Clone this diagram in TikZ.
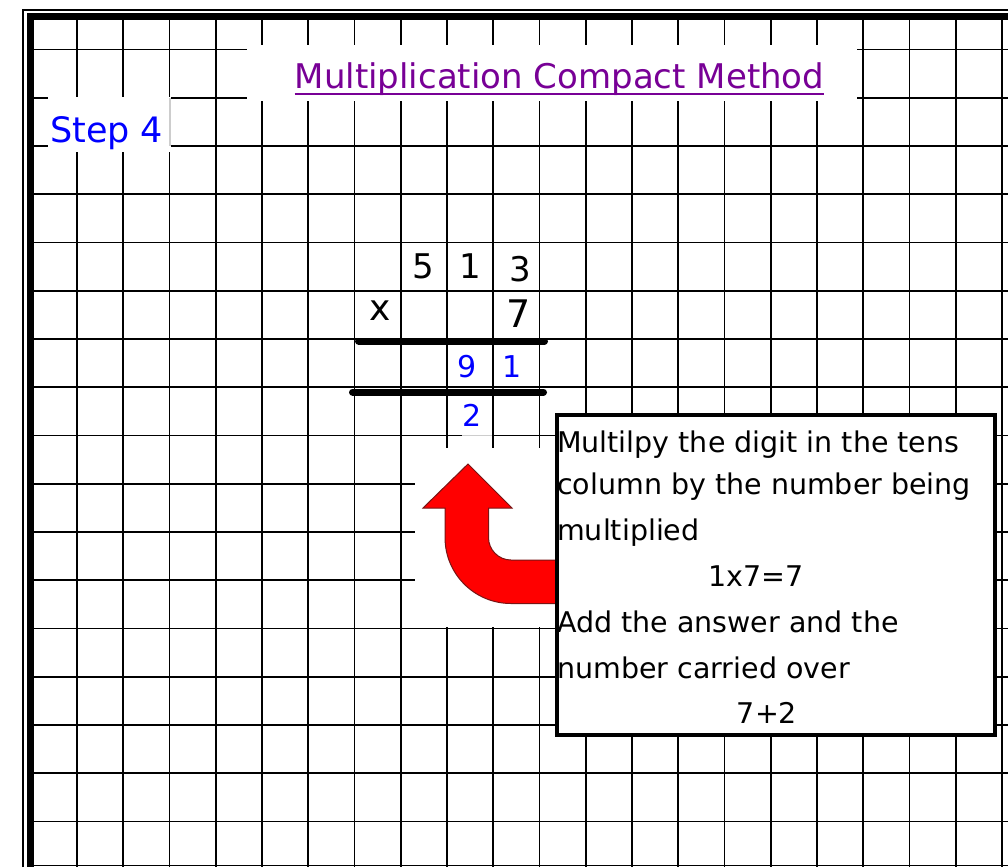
\documentclass[tikz,border=0pt]{standalone}
\usepackage{fontspec}
\setmainfont{DejaVu Sans}
\definecolor{titlepurple}{RGB}{120,0,150}
\definecolor{stepblue}{RGB}{0,0,255}
\definecolor{arrowred}{RGB}{255,0,0}
\definecolor{arrowedge}{RGB}{120,20,20}
\definecolor{fadedline}{RGB}{205,205,205}
\tikzset{
  gridline/.style={black, line width=1.6},
  blank/.style={fill=white, draw=none},
  rule/.style={black, line width=7, line cap=round},
  boxtext/.style={anchor=base west, inner sep=0, font=\fontsize{28.5}{34}\selectfont},
  digit/.style={anchor=base, inner sep=0, font=\fontsize{34}{38}\selectfont},
  bluedigit/.style={anchor=base, inner sep=0, text=stepblue, font=\fontsize{30}{36}\selectfont},
}
\begin{document}
\begin{tikzpicture}[x=1pt, y=-1pt]
\useasboundingbox[fill=white] (0,0) rectangle (1008,867);
% frame
\draw[black, line width=1.3] (23,867) -- (23,10) -- (1008,10);
\fill[black] (27,13.3) rectangle (1008,20);
\fill[black] (27,13.3) rectangle (34,867);
% grid
\foreach \k in {0,...,20} \draw[gridline] ({77+46.25*\k},20) -- ({77+46.25*\k},867);
\foreach \k in {0,...,16} \draw[gridline] (34,{49.5+48.25*\k}) -- (1008,{49.5+48.25*\k});
\draw[gridline] (34,865.5) -- (1008,865.5);
% white patches
\fill[blank] (48,97) rectangle (171,152);
\draw[fadedline, line width=1.2] (170,98) -- (170,146);
\fill[blank] (247,45) rectangle (857,101);
\fill[blank] (415,448) rectangle (556,627);
\fill[blank] (462,433) rectangle (492,440);
\draw[fadedline, line width=1.2] (462,435.5) -- (492,435.5);
% title
\node[anchor=base, inner sep=0, text=titlepurple, font=\fontsize{34}{40}\selectfont] (title) at (559.5,88) {Multiplication Compact Method};
\draw[titlepurple, line width=2.2] ([yshift=-6pt]title.base west) -- ([yshift=-6pt]title.base east);
% step label
\node[anchor=base west, inner sep=0, text=stepblue, font=\fontsize{35}{40}\selectfont] (step) at (50,142) {Step 4};
% sum
\node[digit] (d5) at (423,278) {5};
\node[digit] (d1) at (470,278) {1};
\node[digit] (d3) at (520,281) {3};
\node[anchor=base, inner sep=0, font=\fontsize{36}{40}\selectfont] (times) at (380,320) {x};
\node[anchor=base, inner sep=0, font=\fontsize{38}{42}\selectfont] (d7) at (519,327) {7};
\draw[rule] (358.5,341) -- (544.5,341);
\draw[rule] (352.5,392) -- (543.5,392);
\node[bluedigit] (b9) at (467,377) {9};
\node[bluedigit] (b1) at (512,377) {1};
\node[bluedigit] (b2) at (472,426) {2};
% arrow
\draw[fill=arrowred, draw=arrowedge, line width=1]
  (565,560) -- (511,560) .. controls (498.6,560) and (488.5,549.9) .. (488.5,537.5)
  -- (488.5,508) -- (512,508) -- (468,464) -- (423,508) -- (445,508) -- (445,537.5)
  .. controls (445,574) and (474.5,603.5) .. (511,603.5) -- (565,603.5) -- cycle;
% text box
\draw[black, line width=4, fill=white] (556.5,414.5) rectangle (994.5,734.5);
\node[boxtext] (l1) at (557,452) {Multilpy the digit in the tens};
\node[boxtext] (l2) at (557,494) {column by the number being};
\node[boxtext] (l3) at (557,540) {multiplied};
\node[anchor=base, inner sep=0, font=\fontsize{28.5}{34}\selectfont] (l4) at (756,586) {1x7=7};
\node[boxtext] (l5) at (557,632) {Add the answer and the};
\node[boxtext] (l6) at (557,678) {number carried over};
\node[anchor=base, inner sep=0, font=\fontsize{28.5}{34}\selectfont] (l7) at (767,723) {7+2};
\end{tikzpicture}
\end{document}
